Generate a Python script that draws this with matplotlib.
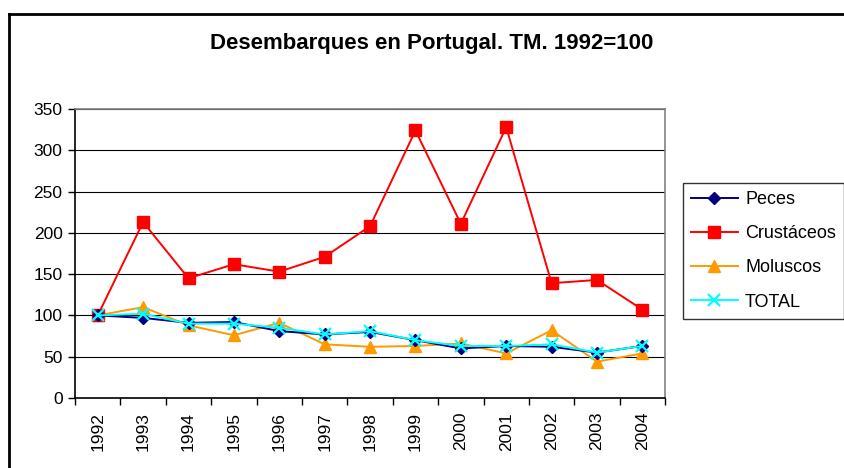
import matplotlib
matplotlib.use('Agg')
import matplotlib.pyplot as plt
from matplotlib.lines import Line2D

plt.rcParams['font.family'] = ['Liberation Sans', 'DejaVu Sans']

years = ['1992', '1993', '1994', '1995', '1996', '1997', '1998',
         '1999', '2000', '2001', '2002', '2003', '2004']
peces = [100, 97, 91, 92, 81, 77, 80, 70, 60, 63, 62, 55, 63]
crustaceos = [100, 213, 145, 162, 153, 171, 208, 324, 211, 328, 139, 143, 107]
moluscos = [100, 110, 88, 76, 91, 65, 62, 63, 66, 54, 82, 44, 54]
total = [100, 102, 90, 90, 85, 77, 81, 70, 63, 63, 65, 55, 63]
yticks = [0, 50, 100, 150, 200, 250, 300, 350]

fig = plt.figure(figsize=(8.44, 4.68), dpi=100)
ax = fig.add_axes([0.0889, 0.1496, 0.6991, 0.6175])

x = range(len(years))
ax.plot(x, peces, color='#000080', marker='D', markersize=6, lw=1.4, label='Peces', zorder=4)
ax.plot(x, crustaceos, color='#FF0000', marker='s', markersize=8, lw=1.4, label='Crustáceos', zorder=3)
ax.plot(x, moluscos, color='#FF9900', marker='^', markersize=9, lw=1.4, label='Moluscos', zorder=2)
ax.plot(x, total, color='#00FFFF', marker='x', markersize=8, mew=1.6, lw=1.4, label='TOTAL', zorder=5)

ax.set_xlim(-0.5, len(years) - 0.5)
ax.set_ylim(0, 350)
ax.set_yticks(yticks)
ax.set_yticklabels([str(v) for v in yticks], fontsize=12.5)
ax.set_xticks([i - 0.5 for i in range(len(years) + 1)])
ax.set_xticklabels([])
ax.set_xticks(list(x), minor=True)
ax.set_xticklabels(years, minor=True, rotation=90, fontsize=12.5)
ax.tick_params(axis='x', which='minor', length=0, pad=10)
ax.tick_params(axis='x', which='major', length=5, width=1, direction='out')
ax.tick_params(axis='y', length=5, width=1, direction='out', pad=4)

ax.yaxis.grid(True, color='black', lw=0.8)
ax.set_axisbelow(True)
ax.spines['left'].set_color('black')
ax.spines['bottom'].set_color('black')
ax.spines['top'].set_color('#808080')
ax.spines['right'].set_color('#808080')
for s in ax.spines.values():
    s.set_linewidth(1.2)

fig.text(0.512, 0.908, 'Desembarques en Portugal. TM. 1992=100', ha='center', va='center',
         fontsize=16, fontweight='bold')

leg = fig.legend(loc='upper left', bbox_to_anchor=(0.809, 0.609), fontsize=13,
                 frameon=True, fancybox=False, edgecolor='black', handlelength=2.6,
                 borderpad=0.45, labelspacing=0.95, handletextpad=0.4, borderaxespad=0)
leg.get_frame().set_linewidth(1.0)

# outer chart border (only left and top visible)
fig.add_artist(Line2D([0.0107, 0.0107], [0.0, 0.970], transform=fig.transFigure, color='black', lw=2))
fig.add_artist(Line2D([0.0107, 1.0], [0.970, 0.970], transform=fig.transFigure, color='black', lw=2))

fig.savefig('out.png', dpi=100)
